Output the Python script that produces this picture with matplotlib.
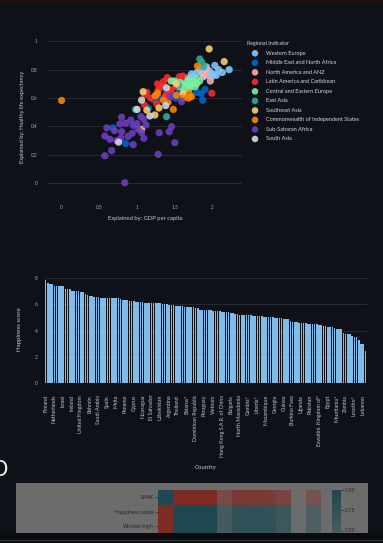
import matplotlib
matplotlib.use('Agg')
import matplotlib.pyplot as plt
import numpy as np
from matplotlib.colors import LinearSegmentedColormap
from matplotlib.patches import Rectangle

W, H = 383, 543
BG = '#0e1117'
FONT = ['Lato', 'DejaVu Sans']

# ---------------- data: scatter (Explained by GDP vs Healthy life) ----------------
regions = ['Western Europe', 'Middle East and North Africa', 'North America and ANZ',
           'Latin America and Caribbean', 'Central and Eastern Europe', 'East Asia',
           'Southeast Asia', 'Commonwealth of Independent States', 'Sub-Saharan Africa',
           'South Asia']
region_colors = ['#83c9ff', '#0068c9', '#ffabab', '#ff2b2b', '#7defa1', '#29b09d',
                 '#ffd16a', '#ff8700', '#6d3fc0', '#d5dae5']

we_x = [2.22, 2.13, 2.03, 2.08, 1.96, 1.90, 1.86, 2.01, 1.79, 1.72, 1.92, 1.99, 1.83, 1.88, 1.74, 1.66, 1.94, 2.05]
we_y = [0.80, 0.78, 0.83, 0.80, 0.79, 0.80, 0.78, 0.77, 0.78, 0.77, 0.82, 0.75, 0.80, 0.75, 0.75, 0.74, 0.76, 0.76]
mena_x = [1.85, 1.87, 1.51, 1.33, 1.15, 0.85, 0.68, 1.90, 1.45, 1.40, 1.30, 1.60, 1.22, 1.56, 1.79]
mena_y = [0.63, 0.585, 0.60, 0.673, 0.53, 0.28, 0.39, 0.66, 0.64, 0.62, 0.60, 0.63, 0.59, 0.66, 0.64]
na_x = [1.92, 1.87, 1.90, 1.97]
na_y = [0.80, 0.77, 0.76, 0.72]
la_x = [1.61, 1.56, 1.40, 1.35, 1.63, 1.26, 1.28, 1.10, 1.99, 1.45, 1.13, 1.10, 1.27, 1.30, 1.26, 1.39, 1.52, 1.37, 1.18, 1.47]
la_y = [0.755, 0.75, 0.744, 0.716, 0.687, 0.622, 0.657, 0.622, 0.634, 0.66, 0.64, 0.55, 0.70, 0.68, 0.56, 0.63, 0.68, 0.61, 0.60, 0.72]
cee_x = [1.79, 1.74, 1.70, 1.77, 1.50, 1.57, 1.63, 1.70, 1.68, 1.61, 1.71, 1.57, 1.79, 1.66, 1.45, 1.74, 1.83]
cee_y = [0.74, 0.72, 0.69, 0.68, 0.72, 0.68, 0.66, 0.67, 0.73, 0.70, 0.69, 0.71, 0.70, 0.70, 0.72, 0.70, 0.72]
ea_x = [1.83, 1.86, 1.88, 1.55, 1.39, 0.98]
ea_y = [0.875, 0.85, 0.82, 0.69, 0.469, 0.52]
sea_x = [1.955, 2.154, 1.08, 1.236, 1.06, 1.61, 1.52, 1.13, 1.29]
sea_y = [0.946, 0.857, 0.645, 0.481, 0.38, 0.634, 0.70, 0.515, 0.53]
cis_x = [0.0, 1.80, 1.72, 1.68, 1.69, 1.24, 1.27, 1.48, 1.41, 1.35, 1.52, 1.61]
cis_y = [0.583, 0.826, 0.61, 0.60, 0.63, 0.617, 0.635, 0.52, 0.57, 0.585, 0.62, 0.60]
ssa_x = [0.795, 0.918, 0.852, 0.772, 0.949, 0.795, 0.935, 1.015, 1.06, 0.573, 0.64, 0.728, 0.785,
         0.949, 0.573, 0.662, 0.838, 1.117, 1.09, 1.293, 1.425, 1.457, 1.09, 1.50, 1.28, 1.434,
         1.589, 0.60, 0.88, 1.00, 0.70, 1.05]
ssa_y = [0.465, 0.446, 0.423, 0.418, 0.408, 0.363, 0.352, 0.38, 0.356, 0.333, 0.31, 0.30, 0.317,
         0.272, 0.194, 0.23, 0.004, 0.41, 0.45, 0.356, 0.363, 0.399, 0.317, 0.286, 0.204, 0.61,
         0.575, 0.39, 0.33, 0.42, 0.37, 0.47]
sa_x = [1.06, 1.17, 0.755, 1.39, 1.38, 1.00]
sa_y = [0.585, 0.474, 0.29, 0.673, 0.547, 0.52]

scatter_xs = [we_x, mena_x, na_x, la_x, cee_x, ea_x, sea_x, cis_x, ssa_x, sa_x]
scatter_ys = [we_y, mena_y, na_y, la_y, cee_y, ea_y, sea_y, cis_y, ssa_y, sa_y]
scatter_xticks = [0, 0.5, 1, 1.5, 2]
scatter_xticklabels = ['0', '0.5', '1', '1.5', '2']
scatter_yticks = [0, 0.2, 0.4, 0.6, 0.8, 1]
scatter_yticklabels = ['0', '0.2', '0.4', '0.6', '0.8', '1']

# ---------------- data: bar chart ----------------
countries = ["Finland", "Denmark", "Iceland", "Switzerland", "Netherlands", "Luxembourg*", "Sweden", "Norway",
             "Israel", "New Zealand", "Austria", "Australia", "Ireland", "Germany", "Canada", "United States",
             "United Kingdom", "Czechia", "Belgium", "France", "Bahrain", "Slovenia", "Costa Rica",
             "United Arab Emirates", "Saudi Arabia", "Taiwan Province of China", "Singapore", "Romania", "Spain",
             "Uruguay", "Italy", "Kosovo", "Malta", "Lithuania", "Slovakia", "Estonia", "Panama", "Brazil",
             "Guatemala*", "Kazakhstan", "Cyprus", "Latvia", "Serbia", "Chile", "Nicaragua", "Mexico", "Croatia",
             "Poland", "El Salvador", "Kuwait*", "Hungary", "Mauritius", "Uzbekistan", "Japan", "Honduras",
             "Portugal", "Argentina", "Greece", "South Korea", "Philippines", "Thailand", "Moldova", "Jamaica",
             "Kyrgyzstan", "Belarus*", "Colombia", "Bosnia and Herzegovina", "Mongolia", "Dominican Republic",
             "Malaysia", "Bolivia", "China", "Paraguay", "Peru", "Montenegro", "Ecuador", "Vietnam",
             "Turkmenistan*", "North Cyprus*", "Russia", "Hong Kong S.A.R. of China", "Armenia", "Tajikistan",
             "Nepal", "Bulgaria", "Libya*", "Indonesia", "Ivory Coast", "North Macedonia", "Albania",
             "South Africa", "Azerbaijan*", "Gambia*", "Bangladesh", "Laos", "Algeria", "Liberia*", "Ukraine",
             "Congo", "Morocco", "Mozambique", "Cameroon", "Senegal", "Niger*", "Georgia", "Gabon", "Iraq",
             "Venezuela", "Guinea", "Iran", "Ghana", "Turkey", "Burkina Faso", "Cambodia", "Benin", "Comoros*",
             "Uganda", "Nigeria", "Kenya", "Tunisia", "Pakistan", "Palestinian Territories*", "Mali", "Namibia",
             "Eswatini, Kingdom of*", "Myanmar", "Sri Lanka", "Madagascar*", "Egypt", "Chad*", "Ethiopia",
             "Yemen*", "Mauritania*", "Jordan", "Togo", "India", "Zambia", "Malawi", "Tanzania", "Sierra Leone",
             "Lesotho*", "Botswana*", "Rwanda*", "Zimbabwe", "Lebanon", "Afghanistan"]
happiness = [7.821, 7.636, 7.557, 7.512, 7.415, 7.404, 7.384, 7.365, 7.364, 7.200, 7.163, 7.162, 7.041, 7.034,
             7.025, 6.977, 6.943, 6.920, 6.805, 6.687, 6.647, 6.630, 6.582, 6.576, 6.523, 6.512, 6.480, 6.477,
             6.476, 6.474, 6.467, 6.455, 6.447, 6.446, 6.391, 6.341, 6.309, 6.293, 6.262, 6.234, 6.221, 6.180,
             6.178, 6.172, 6.165, 6.128, 6.125, 6.123, 6.120, 6.106, 6.086, 6.071, 6.063, 6.039, 6.022, 6.016,
             5.967, 5.948, 5.935, 5.904, 5.891, 5.857, 5.850, 5.828, 5.821, 5.781, 5.768, 5.761, 5.737, 5.711,
             5.600, 5.585, 5.578, 5.559, 5.547, 5.533, 5.485, 5.474, 5.467, 5.459, 5.425, 5.399, 5.377, 5.377,
             5.371, 5.330, 5.240, 5.235, 5.199, 5.199, 5.194, 5.173, 5.164, 5.155, 5.140, 5.122, 5.122, 5.084,
             5.075, 5.060, 5.048, 5.048, 5.046, 5.003, 4.973, 4.958, 4.941, 4.925, 4.891, 4.888, 4.872, 4.744,
             4.670, 4.640, 4.623, 4.609, 4.603, 4.552, 4.543, 4.516, 4.516, 4.483, 4.479, 4.459, 4.396, 4.394,
             4.362, 4.339, 4.288, 4.251, 4.241, 4.197, 4.153, 4.152, 4.112, 3.777, 3.760, 3.750, 3.702, 3.574,
             3.512, 3.471, 3.268, 2.995, 2.955, 2.404]
bar_yticks = [0, 2, 4, 6, 8]

# ---------------- data: correlation heatmap (visible rows) ----------------
heat_rows = ['RANK', 'Happiness score', 'Whisker-high']
corr_rank = [1.00, -0.99, -0.99, -0.99, -0.50, -0.77, -0.78, -0.75, -0.62, -0.05, -0.42]
corr_score = [-0.99, 1.00, 1.00, 1.00, 0.52, 0.76, 0.78, 0.74, 0.62, 0.06, 0.42]
corr_whigh = [-0.99, 1.00, 1.00, 0.99, 0.51, 0.77, 0.78, 0.75, 0.61, 0.05, 0.42]
cbar_ticks = [0.50, 0.75, 1.00]


def rect(x0, y0, x1, y1):
    return [x0 / W, 1 - y1 / H, (x1 - x0) / W, (y1 - y0) / H]


fig = plt.figure(figsize=(W / 100, H / 100), dpi=100, facecolor=BG)

# background overlay (behind everything)
bgax = fig.add_axes([0, 0, 1, 1])
bgax.set_xlim(0, W); bgax.set_ylim(H, 0); bgax.axis('off'); bgax.set_zorder(-1)
bgax.add_patch(Rectangle((16, 482.7), 352, 52, facecolor='#6c6c6c', edgecolor='none'))
bgax.add_patch(Rectangle((0, 0), W, 1.2, facecolor='#2a0f0c', edgecolor='none'))

tick_col = '#a7abb5'
title_col = '#c9ccd4'
grid_col = '#272b34'

# ---------------- scatter ----------------
ax1 = fig.add_axes(rect(48, 37, 242, 197.5))
ax1.set_facecolor(BG)
for xs, ys, col in zip(scatter_xs, scatter_ys, region_colors):
    ax1.scatter(xs, ys, s=27, c=col, edgecolors='none', alpha=0.88, zorder=3)
ax1.set_xlim(-0.18, 2.39)
ax1.set_ylim(-0.1, 1.03)
ax1.set_xticks(scatter_xticks)
ax1.set_xticklabels(scatter_xticklabels, family=FONT, fontsize=3.4, color=tick_col)
ax1.set_yticks(scatter_yticks)
ax1.set_yticklabels(scatter_yticklabels, family=FONT, fontsize=3.4, color=tick_col)
ax1.tick_params(axis='x', length=0, pad=5.5)
ax1.tick_params(axis='y', length=0, pad=7.5)
for s in ax1.spines.values():
    s.set_visible(False)
for yv in scatter_yticks:
    ax1.axhline(yv, color=grid_col, lw=0.7, zorder=1)

# ---------------- bar chart ----------------
ax2 = fig.add_axes(rect(44.5, 275, 366.5, 383))
ax2.set_facecolor(BG)
xpos = np.arange(len(happiness))
ax2.bar(xpos, happiness, width=0.72, color='#7fbce9', edgecolor='none', zorder=3)
ax2.set_xlim(-0.5, len(happiness) - 0.5)
ax2.set_ylim(0, 8.23)
ax2.set_yticks(bar_yticks)
ax2.set_yticklabels([str(v) for v in bar_yticks], family=FONT, fontsize=3.4, color=tick_col)
ax2.set_xticks(xpos[::4])
ax2.set_xticklabels(countries[::4], rotation=90, family=FONT, fontsize=3.8, color='#c3c7cf', va='top')
ax2.tick_params(axis='x', length=0, pad=8.5)
ax2.tick_params(axis='y', length=0, pad=5)
for s in ax2.spines.values():
    s.set_visible(False)
for yv in bar_yticks[1:]:
    ax2.axhline(yv, color=grid_col, lw=0.7, zorder=1)

# ---------------- heatmap ----------------
heat = np.array([corr_rank, corr_score, corr_whigh])
cmap = LinearSegmentedColormap.from_list('dimdiv', ['#7e2a24', '#6e6e6e', '#1f4850'])
ax3 = fig.add_axes(rect(157.7, 490, 321, 533.5))
ax3.set_facecolor('#6c6c6c')
im = ax3.pcolormesh(heat, cmap=cmap, vmin=-1, vmax=1)
ax3.set_xlim(0, heat.shape[1]); ax3.set_ylim(heat.shape[0], 0)
ax3.set_yticks(np.arange(len(heat_rows)) + 0.5)
ax3.set_yticklabels(heat_rows, family='DejaVu Sans', fontsize=3.4, color='#262626')
ax3.set_xticks([])
ax3.tick_params(axis='y', length=2, width=0.4, color='#262626', pad=1)
for s in ax3.spines.values():
    s.set_visible(False)

cax = fig.add_axes(rect(331.7, 490, 340.7, 652))
cb = fig.colorbar(im, cax=cax)
cb.outline.set_visible(False)
cb.set_ticks(cbar_ticks)
cb.set_ticklabels(['%.2f' % t for t in cbar_ticks])
cax.tick_params(labelsize=3.4, colors='#262626', length=2, width=0.4, pad=1)
for lbl in cax.get_yticklabels():
    lbl.set_family('DejaVu Sans')

# ---------------- foreground overlay: titles, legend, cut-off ----------------
ov = fig.add_axes([0, 0, 1, 1])
ov.set_xlim(0, W); ov.set_ylim(H, 0); ov.axis('off'); ov.set_zorder(10)

ov.text(145.7, 218.3, 'Explained by: GDP per capita', family=FONT, fontsize=4.2,
        color=title_col, ha='center', va='center')
ov.text(23, 117, 'Explained by: Healthy life expectancy', family=FONT, fontsize=4.1,
        color=title_col, ha='center', va='center', rotation=90)
ov.text(20, 329, 'Happiness score', family=FONT, fontsize=4.4,
        color=title_col, ha='center', va='center', rotation=90)
ov.text(206, 467, 'Country', family=FONT, fontsize=4.4,
        color=title_col, ha='center', va='center')

# legend
ov.text(247, 44, 'Regional Indicator', family=FONT, fontsize=3.8, color='#d5d8de',
        ha='left', va='center')
for i, (name, col) in enumerate(zip(regions, region_colors)):
    yy = 53.3 + i * 9.52
    ov.scatter([255], [yy], s=22, c=col, edgecolors='none', alpha=0.9)
    ov.text(265.5, yy, name, family=FONT, fontsize=4.0, color='#d5d8de', ha='left', va='center')

# large heading fragment at left edge (cut off in the reference as well)
ov.text(0, 469.5, 'O', fontsize=15, color='#f2f2f2', ha='center', va='center', family='DejaVu Sans')

# bottom cut-off band
ov.add_patch(Rectangle((0, 533), W, 12, facecolor='#0b0c0f', edgecolor='none'))
ov.plot([0, W], [540.3, 540.3], color='#3a3b3e', lw=0.8)

fig.savefig('out.png', dpi=100, facecolor=BG)
